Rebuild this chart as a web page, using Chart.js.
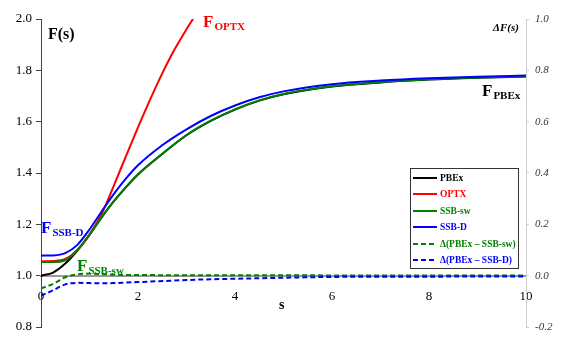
<!DOCTYPE html>
<html>
<head>
<meta charset="utf-8">
<script src="https://cdn.jsdelivr.net/npm/chart.js@4"></script>
<style>
  html, body { margin: 0; padding: 0; background: #fff; }
  #wrap { width: 567px; height: 352px; }
</style>
</head>
<body>
<div id="wrap"><canvas id="fsChart" width="567" height="352"></canvas></div>
<script>

// ─────────────────────────────────────
// DATA
// ─────────────────────────────────────

const sValues = [0, 0.25, 0.5, 0.75, 1, 1.25, 1.5, 1.75, 2, 2.5, 3, 3.5, 4, 4.5, 5, 6, 7, 8, 9, 10];

const pbex  = [1.000, 1.012, 1.047, 1.098, 1.159, 1.227, 1.289, 1.344, 1.394, 1.474, 1.547, 1.603, 1.647, 1.682, 1.707, 1.737, 1.753, 1.764, 1.771, 1.776];
const ssbSw = [1.053, 1.053, 1.060, 1.100, 1.160, 1.228, 1.290, 1.345, 1.395, 1.475, 1.548, 1.604, 1.648, 1.683, 1.708, 1.738, 1.754, 1.765, 1.772, 1.777];
const ssbD  = [1.078, 1.079, 1.088, 1.120, 1.180, 1.250, 1.318, 1.378, 1.430, 1.508, 1.570, 1.622, 1.663, 1.695, 1.718, 1.746, 1.760, 1.769, 1.775, 1.780];

const sOptx = [0, 0.25, 0.5, 0.75, 1, 1.25, 1.5, 1.75, 2, 2.25, 2.5, 2.75, 3, 3.25];
const optx  = [1.056, 1.057, 1.065, 1.100, 1.160, 1.240, 1.350, 1.465, 1.578, 1.686, 1.788, 1.880, 1.960, 2.035];

const deltaSw = [-0.050, -0.032, -0.006, 0.005, 0.008, 0.006, 0.004, 0.003, 0.003, 0.002, 0.002, 0.002, 0.002, 0.002, 0.002, 0.001, 0.001, 0.001, 0.001, 0.001];
const deltaD  = [-0.078, -0.057, -0.034, -0.028, -0.029, -0.030, -0.029, -0.027, -0.025, -0.021, -0.017, -0.014, -0.012, -0.010, -0.008, -0.005, -0.004, -0.004, -0.003, -0.003];

const xTicks = [0, 2, 4, 6, 8, 10];
const leftTicks = [0.8, 1.0, 1.2, 1.4, 1.6, 1.8, 2.0];
const rightTicks = [-0.2, 0.0, 0.2, 0.4, 0.6, 0.8, 1.0];

const serif = '"Liberation Serif", "Times New Roman", serif';

function pts(xs, ys) {
    return xs.map((x, i) => ({ x: x, y: ys[i] }));
}


// ─────────────────────────────────────
// CURVE LABELS  (F with subscript)
// ─────────────────────────────────────

function drawF(ctx, x, y, sub, color) {
    ctx.fillStyle = color;
    ctx.font = "bold 17px " + serif;
    ctx.fillText("F", x, y);
    const w = ctx.measureText("F").width;
    ctx.font = "bold 11px " + serif;
    ctx.fillText(sub, x + w + 1, y + 3);
}

const labelsPlugin = {
    id: "curveLabels",
    afterDraw(chart) {
        const ctx = chart.ctx;
        ctx.save();
        ctx.textBaseline = "alphabetic";
        ctx.textAlign = "left";

        ctx.fillStyle = "#000";
        ctx.font = "bold 16px " + serif;
        ctx.fillText("F(s)", 48, 39);

        ctx.font = "bold italic 11px " + serif;
        ctx.fillText("\u0394F(s)", 493, 31);

        ctx.font = "bold 14px " + serif;
        ctx.fillText("s", 279, 309);

        drawF(ctx, 203, 27, "OPTX", "#ff0000");
        drawF(ctx, 482, 96, "PBEx", "#000000");
        drawF(ctx, 41, 233, "SSB-D", "#0000ff");
        drawF(ctx, 77, 271, "SSB-sw", "#008000");
        ctx.restore();
    }
};


// ─────────────────────────────────────
// LEGEND BOX
// ─────────────────────────────────────

const legendPlugin = {
    id: "boxLegend",
    afterDraw(chart) {
        const ctx = chart.ctx;
        const left = 410, top = 168, w = 108, h = 100;
        ctx.save();
        ctx.fillStyle = "#fff";
        ctx.fillRect(left, top, w, h);
        ctx.strokeStyle = "#333";
        ctx.lineWidth = 1;
        ctx.strokeRect(left + 0.5, top + 0.5, w, h);

        const rows = [178, 194, 211, 227, 244, 260];
        chart.data.datasets.forEach((ds, i) => {
            const y = rows[i];
            ctx.strokeStyle = ds.borderColor;
            ctx.lineWidth = 2;
            ctx.setLineDash(ds.borderDash || []);
            ctx.beginPath();
            ctx.moveTo(413, y);
            ctx.lineTo(437, y);
            ctx.stroke();
            ctx.setLineDash([]);
            ctx.fillStyle = ds.borderColor;
            ctx.font = "bold 9.5px " + serif;
            ctx.textBaseline = "middle";
            ctx.fillText(ds.label, 440, y + 1);
        });
        ctx.restore();
    }
};


// ─────────────────────────────────────
// CHART
// ─────────────────────────────────────

new Chart(document.getElementById("fsChart"), {

    type: "line",

    data: {
        datasets: [
            { label: "PBEx", data: pts(sValues, pbex), borderColor: "#000000", order: 6 },
            { label: "OPTX", data: pts(sOptx, optx), borderColor: "#ff0000", order: 5 },
            { label: "SSB-sw", data: pts(sValues, ssbSw), borderColor: "#008000", order: 4 },
            { label: "SSB-D", data: pts(sValues, ssbD), borderColor: "#0000ff", order: 3 },
            { label: "\u0394(PBEx \u2013 SSB-sw)", data: pts(sValues, deltaSw), borderColor: "#008000",
              borderDash: [5, 3], yAxisID: "y2", order: 2 },
            { label: "\u0394(PBEx \u2013 SSB-D)", data: pts(sValues, deltaD), borderColor: "#0000ff",
              borderDash: [5, 3], yAxisID: "y2", order: 1 }
        ]
    },

    options: {
        responsive: false,
        animation: false,
        events: [],
        layout: { padding: { top: 19, bottom: 25, left: 0, right: 0 } },
        elements: {
            point: { radius: 0 },
            line: { borderWidth: 2, cubicInterpolationMode: "monotone", fill: false }
        },
        plugins: {
            legend: { display: false },
            tooltip: { enabled: false }
        },
        scales: {
            x: {
                type: "linear",
                position: { y: 1.0 },
                min: 0,
                max: 10,
                afterBuildTicks: s => { s.ticks = xTicks.map(v => ({ value: v })); },
                grid: { drawOnChartArea: false, drawTicks: false },
                border: { color: "#999", width: 2 },
                ticks: { padding: 13, color: "#000", font: { family: serif, size: 13 }, maxRotation: 0 }
            },
            y: {
                position: "left",
                min: 0.8,
                max: 2.0,
                afterBuildTicks: s => { s.ticks = leftTicks.map(v => ({ value: v })); },
                afterFit: s => { s.width = 41; },
                grid: { drawOnChartArea: false, tickLength: 5, color: "#444" },
                border: { color: "#444", width: 1 },
                ticks: {
                    padding: 4, color: "#000",
                    font: { family: serif, size: 13 },
                    callback: v => v.toFixed(1)
                }
            },
            y2: {
                position: "right",
                min: -0.2,
                max: 1.0,
                afterBuildTicks: s => { s.ticks = rightTicks.map(v => ({ value: v })); },
                afterFit: s => { s.width = 41; },
                grid: { drawOnChartArea: false, tickLength: 3, color: "#ccc" },
                border: { color: "#d0d0d0", width: 1 },
                ticks: {
                    padding: 6, color: "#333",
                    font: { family: serif, size: 11, style: "italic" },
                    callback: v => v.toFixed(1)
                }
            }
        }
    },

    plugins: [labelsPlugin, legendPlugin]
});

</script>
</body>
</html>
